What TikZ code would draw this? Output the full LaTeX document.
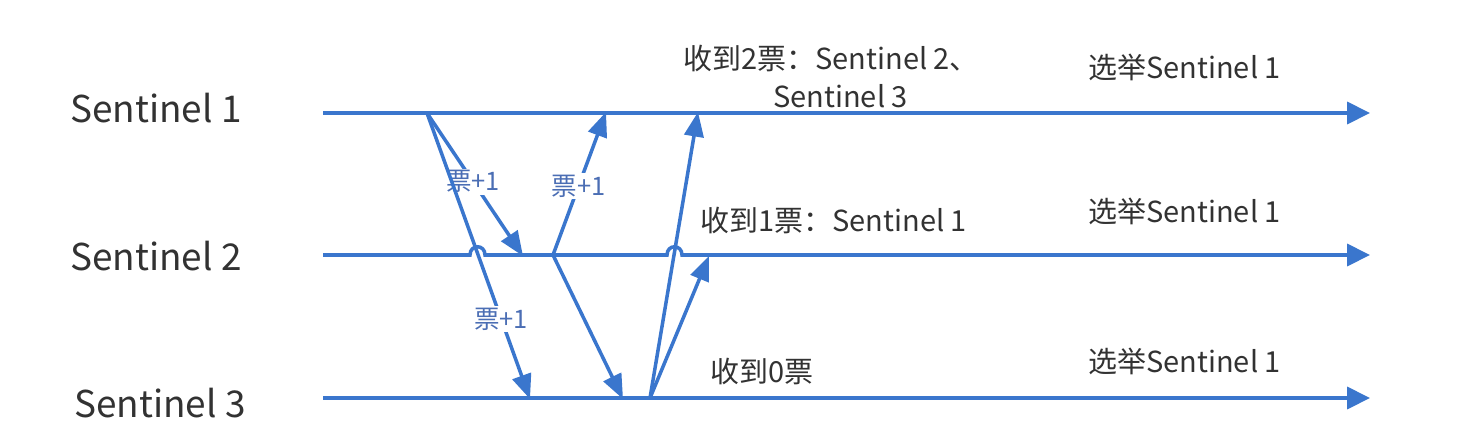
\documentclass[tikz,border=0pt]{standalone}
\usepackage{fontspec}
\setmainfont{Noto Sans CJK SC}
\usetikzlibrary{arrows.meta}
\definecolor{lineblue}{RGB}{58,118,205}
\definecolor{votecol}{RGB}{75,110,180}
\definecolor{txt}{RGB}{50,50,50}
\tikzset{
  tl/.style={line width=2pt, draw=lineblue, -{Triangle[length=13pt,width=12.5pt]}},
  msg/.style={line width=2pt, draw=lineblue, -{Triangle[length=14pt,width=11pt]}},
  big/.style={font=\fontsize{21}{24}\selectfont, text=txt, inner sep=0pt},
  lab/.style={font=\fontsize{16.5}{20}\selectfont, text=txt, inner sep=0pt, anchor=west},
  vote/.style={font=\fontsize{14.5}{17}\selectfont, text=votecol, fill=white, inner sep=1pt}
}
\begin{document}
\begin{tikzpicture}[x=0.02cm,y=-0.02cm]
\useasboundingbox (0,0) rectangle (1470,433);
% sentinel names
\node[big] (n1) at (156,108) {Sentinel 1};
\node[big] (n2) at (156,256) {Sentinel 2};
\node[big] (n3) at (160,403) {Sentinel 3};
% timeline coordinates
\coordinate (s1a) at (323,113); \coordinate (s1b) at (1370,113);
\coordinate (s2a) at (323,255); \coordinate (s2b) at (1370,255);
\coordinate (s3a) at (323,398); \coordinate (s3b) at (1370,398);
\coordinate (h1a) at (470,255); \coordinate (h1b) at (485,255);
\coordinate (h2a) at (667,255); \coordinate (h2b) at (682,255);
% timelines
\draw[tl] (s1a) -- (s1b);
\draw[tl] (s2a) -- (h1a) .. controls (470,244) and (485,244) .. (h1b) -- (h2a) .. controls (667,244) and (682,244) .. (h2b) -- (s2b);
\draw[tl] (s3a) -- (s3b);
% message points
\coordinate (p1) at (427,113);
\coordinate (q1) at (523,256);
\coordinate (r1) at (530,399);
\coordinate (p2) at (553,255);
\coordinate (q2) at (606,112);
\coordinate (r2) at (623,399);
\coordinate (p3) at (650,398);
\coordinate (q3) at (698,112);
\coordinate (r3) at (709,256);
% messages
\draw[msg] (p1) -- node[vote, pos=0.48] (v1) {票+1} (q1);
\draw[msg] (p1) -- node[vote, pos=0.72] (v2) {票+1} (r1);
\draw[msg] (p2) -- node[vote, pos=0.48] (v3) {票+1} (q2);
\draw[msg] (p2) -- (r2);
\draw[msg] (p3) -- (q3);
\draw[msg] (p3) -- (r3);
% labels
\node[lab] (t1) at (683,58) {收到2票：Sentinel 2、};
\node[lab] (t1b) at (773,96) {Sentinel 3};
\node[lab] (t2) at (700,220) {收到1票：Sentinel 1};
\node[lab] (t3) at (710,371) {收到0票};
\node[lab] (e1) at (1088,67) {选举Sentinel 1};
\node[lab] (e2) at (1088,211) {选举Sentinel 1};
\node[lab] (e3) at (1088,361) {选举Sentinel 1};
\end{tikzpicture}
\end{document}
